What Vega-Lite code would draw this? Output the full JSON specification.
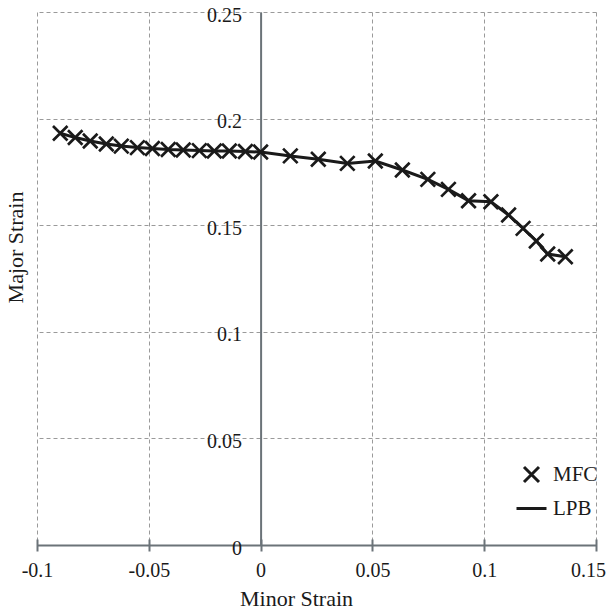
{
  "$schema": "https://vega.github.io/schema/vega-lite/v6.json",
  "width": 559,
  "height": 533,
  "autosize": {"type": "none"},
  "padding": {"left": 37, "top": 12, "right": 14, "bottom": 64},
  "background": "white",
  "config": {
    "view": {"stroke": null},
    "font": "Liberation Serif",
    "axis": {"labelFont": "Liberation Serif", "titleFont": "Liberation Serif", "labelColor": "#1a1a1a", "titleColor": "#1a1a1a", "titleFontWeight": "normal"}
  },
  "data": {
    "values": [
      {"s": "MFC", "x": -0.0896, "y": 0.1931},
      {"s": "MFC", "x": -0.0829, "y": 0.1911},
      {"s": "MFC", "x": -0.0762, "y": 0.1895},
      {"s": "MFC", "x": -0.069, "y": 0.1881},
      {"s": "MFC", "x": -0.0623, "y": 0.1871},
      {"s": "MFC", "x": -0.0551, "y": 0.1864},
      {"s": "MFC", "x": -0.0484, "y": 0.186},
      {"s": "MFC", "x": -0.0413, "y": 0.1855},
      {"s": "MFC", "x": -0.0346, "y": 0.1853},
      {"s": "MFC", "x": -0.0274, "y": 0.185},
      {"s": "MFC", "x": -0.0207, "y": 0.1848},
      {"s": "MFC", "x": -0.014, "y": 0.1848},
      {"s": "MFC", "x": -0.0068, "y": 0.1846},
      {"s": "MFC", "x": 0.0, "y": 0.1843},
      {"s": "MFC", "x": 0.0133, "y": 0.1825},
      {"s": "MFC", "x": 0.0258, "y": 0.1809},
      {"s": "MFC", "x": 0.0388, "y": 0.179},
      {"s": "MFC", "x": 0.0513, "y": 0.1801},
      {"s": "MFC", "x": 0.0634, "y": 0.1759},
      {"s": "MFC", "x": 0.0748, "y": 0.1715},
      {"s": "MFC", "x": 0.084, "y": 0.1668},
      {"s": "MFC", "x": 0.093, "y": 0.1615},
      {"s": "MFC", "x": 0.103, "y": 0.161},
      {"s": "MFC", "x": 0.1109, "y": 0.1548},
      {"s": "MFC", "x": 0.1174, "y": 0.1485},
      {"s": "MFC", "x": 0.1233, "y": 0.1426},
      {"s": "MFC", "x": 0.1284, "y": 0.1365},
      {"s": "MFC", "x": 0.1363, "y": 0.1352},
      {"s": "LPB", "x": -0.0896, "y": 0.1931},
      {"s": "LPB", "x": -0.0829, "y": 0.1911},
      {"s": "LPB", "x": -0.0762, "y": 0.1895},
      {"s": "LPB", "x": -0.069, "y": 0.1881},
      {"s": "LPB", "x": -0.0623, "y": 0.1871},
      {"s": "LPB", "x": -0.0551, "y": 0.1864},
      {"s": "LPB", "x": -0.0484, "y": 0.186},
      {"s": "LPB", "x": -0.0413, "y": 0.1855},
      {"s": "LPB", "x": -0.0346, "y": 0.1853},
      {"s": "LPB", "x": -0.0274, "y": 0.185},
      {"s": "LPB", "x": -0.0207, "y": 0.1848},
      {"s": "LPB", "x": -0.014, "y": 0.1848},
      {"s": "LPB", "x": -0.0068, "y": 0.1846},
      {"s": "LPB", "x": 0.0, "y": 0.1843},
      {"s": "LPB", "x": 0.0133, "y": 0.1825},
      {"s": "LPB", "x": 0.0258, "y": 0.1809},
      {"s": "LPB", "x": 0.0388, "y": 0.179},
      {"s": "LPB", "x": 0.0513, "y": 0.1801},
      {"s": "LPB", "x": 0.0634, "y": 0.1759},
      {"s": "LPB", "x": 0.0748, "y": 0.1715},
      {"s": "LPB", "x": 0.084, "y": 0.1668},
      {"s": "LPB", "x": 0.093, "y": 0.1615},
      {"s": "LPB", "x": 0.103, "y": 0.161},
      {"s": "LPB", "x": 0.1109, "y": 0.1548},
      {"s": "LPB", "x": 0.1174, "y": 0.1485},
      {"s": "LPB", "x": 0.1233, "y": 0.1426},
      {"s": "LPB", "x": 0.1284, "y": 0.1365},
      {"s": "LPB", "x": 0.1363, "y": 0.1352}
    ]
  },
  "layer": [
    {
      "transform": [{"filter": "datum.s === 'LPB'"}],
      "mark": {"type": "line", "color": "#1a1a1a", "strokeWidth": 3, "clip": false},
      "encoding": {
        "x": {
          "field": "x", "type": "quantitative",
          "scale": {"domain": [-0.1, 0.15], "nice": false, "zero": false},
          "axis": {
            "orient": "bottom",
            "values": [-0.1, -0.05, 0, 0.05, 0.1, 0.15],
            "labelExpr": "replace(format(datum.value, '~g'), '\u2212', '-')",
            "title": "Minor Strain",
            "titleFontSize": 22,
            "titleX": 259,
            "titleY": 60,
            "titleBaseline": "alphabetic",
            "titleAnchor": null,
            "labelFontSize": 20,
            "labelPadding": 15,
            "labelOffset": {"condition": {"test": "datum.value > 0.14", "value": -8}, "value": 0},
            "labelFlush": false,
            "labelOverlap": false,
            "ticks": false,
            "domain": true,
            "domainColor": "#6b7378",
            "domainWidth": 2,
            "grid": true,
            "gridColor": "#9a9a9a",
            "gridDash": [4, 3],
            "gridWidth": 1
          }
        },
        "y": {
          "field": "y", "type": "quantitative",
          "scale": {"domain": [0, 0.25], "nice": false},
          "axis": {
            "orient": "left",
            "values": [0, 0.05, 0.1, 0.15, 0.2, 0.25],
            "format": "~g",
            "offset": -223.6,
            "title": "Major Strain",
            "titleFontSize": 22,
            "titleAngle": -90,
            "titleX": -245,
            "titleY": 235,
            "titleAlign": "center",
            "titleBaseline": "middle",
            "titleAnchor": null,
            "labelFontSize": 20,
            "labelPadding": 19,
            "labelOffset": 3,
            "labelBaseline": "middle",
            "labelFlush": false,
            "labelOverlap": false,
            "ticks": false,
            "domain": true,
            "domainColor": "#6b7378",
            "domainWidth": 2,
            "grid": false
          }
        }
      }
    },
    {
      "transform": [{"filter": "datum.s === 'MFC'"}],
      "mark": {"type": "point", "filled": false, "stroke": "#1a1a1a", "strokeWidth": 2.7, "size": 841, "opacity": 1, "clip": false},
      "encoding": {
        "x": {
          "field": "x", "type": "quantitative",
          "axis": {
            "orient": "bottom",
            "values": [-0.1, -0.05, 0, 0.05, 0.1, 0.15],
            "offset": -6,
            "title": null,
            "labels": false,
            "domain": false,
            "grid": false,
            "ticks": true,
            "tickSize": 12,
            "tickWidth": 2,
            "tickColor": "#6b7378"
          }
        },
        "y": {
          "field": "y", "type": "quantitative",
          "axis": {
            "orient": "right",
            "values": [0.05, 0.1, 0.15, 0.2, 0.25],
            "title": null,
            "labels": false,
            "domain": false,
            "ticks": false,
            "grid": true,
            "gridColor": "#9a9a9a",
            "gridDash": [4, 3],
            "gridWidth": 1
          }
        },
        "shape": {
          "field": "s", "type": "nominal",
          "scale": {"domain": ["MFC", "LPB"], "range": ["M-0.5,-0.5L0.5,0.5M-0.5,0.5L0.5,-0.5", "stroke"]},
          "legend": {
            "title": null,
            "orient": "none",
            "legendX": 478,
            "legendY": 446,
            "padding": 0,
            "symbolSize": 900,
            "symbolStrokeColor": "#1a1a1a",
            "symbolStrokeWidth": 3,
            "symbolFillColor": "transparent",
            "labelFont": "Liberation Serif",
            "labelFontSize": 21,
            "labelColor": "#1a1a1a",
            "labelOffset": 5,
            "rowPadding": 4
          }
        }
      }
    }
  ],
  "resolve": {"axis": {"x": "independent", "y": "independent"}}
}
